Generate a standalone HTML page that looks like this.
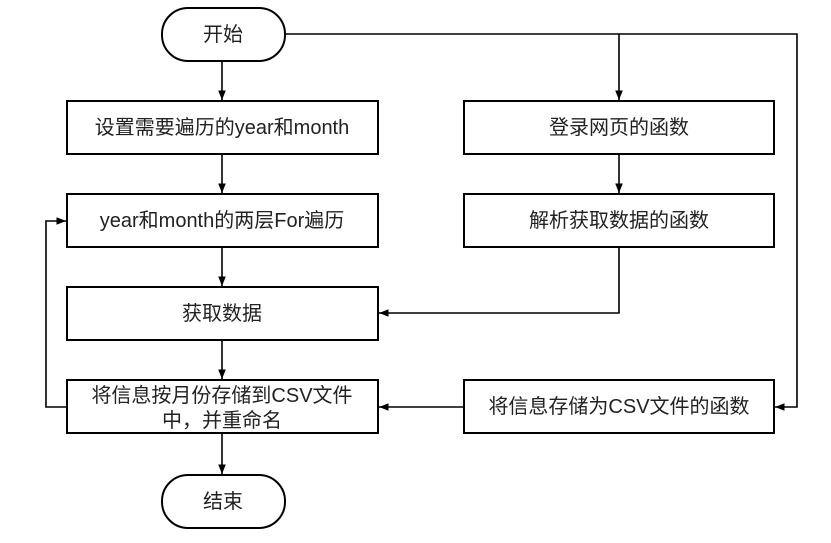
<!DOCTYPE html>
<html><head><meta charset="utf-8"><style>
html,body{margin:0;padding:0;background:#fff;width:831px;height:543px;overflow:hidden}
svg text{font-family:"Liberation Sans","Noto Sans CJK SC",sans-serif;font-size:20px;fill:#222;text-anchor:middle;dominant-baseline:central}
</style></head><body>
<svg width="831" height="543" viewBox="0 0 831 543" xmlns="http://www.w3.org/2000/svg">
<defs><marker id="a" viewBox="0 0 10 10" refX="10" refY="5" markerWidth="6" markerHeight="6" orient="auto"><path d="M0,1 L10,5 L0,9 z" fill="#000"/></marker></defs>
<g fill="#fff" stroke="#000" stroke-width="2">
<rect x="162" y="8" width="123" height="53" rx="26"/>
<rect x="67" y="101" width="311" height="53"/>
<rect x="67" y="194" width="311" height="53"/>
<rect x="67" y="287" width="311" height="53"/>
<rect x="67" y="380" width="311" height="53"/>
<rect x="162" y="475" width="123" height="53" rx="26"/>
<rect x="464" y="101" width="310" height="53"/>
<rect x="464" y="194" width="310" height="53"/>
<rect x="464" y="380" width="310" height="53"/>
</g>
<g fill="none" stroke="#000" stroke-width="1.6" marker-end="url(#a)">
<path d="M222 61 V100"/>
<path d="M222 154 V193"/>
<path d="M222 247 V286"/>
<path d="M222 340 V379"/>
<path d="M222 433 V474"/>
<path d="M67 407 H46 V221 H66"/>
<path d="M285 34 H619 V100"/>
<path d="M619 34 H797 V407 H775"/>
<path d="M619 154 V193"/>
<path d="M619 247 V313 H379"/>
<path d="M464 407 H379"/>
</g>
<text x="223" y="35">开始</text>
<text x="222" y="128">设置需要遍历的year和month</text>
<text x="222" y="221">year和month的两层For遍历</text>
<text x="222" y="314">获取数据</text>
<text x="222" y="396">将信息按月份存储到CSV文件</text>
<text x="222" y="421">中，并重命名</text>
<text x="223" y="502">结束</text>
<text x="619" y="128">登录网页的函数</text>
<text x="619" y="221">解析获取数据的函数</text>
<text x="619" y="407">将信息存储为CSV文件的函数</text>
</svg>
</body></html>
